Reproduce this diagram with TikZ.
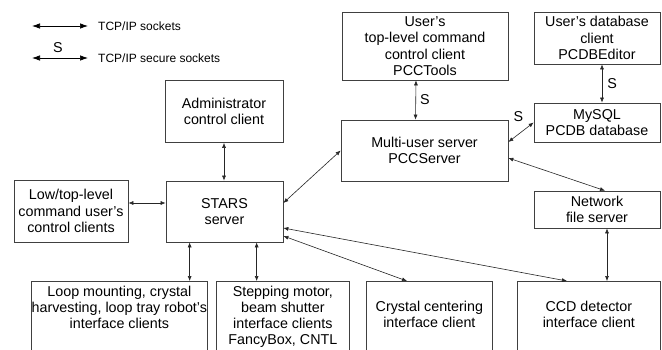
\documentclass[tikz,border=0pt]{standalone}
\usepackage{fontspec}
\setmainfont{Liberation Sans}
\usetikzlibrary{arrows.meta,calc}
\begin{document}
\begin{tikzpicture}[x=1pt,y=-1pt,
  box/.style={draw=black!75,line width=0.7pt,align=center,inner sep=0pt,font=\fontsize{14.3}{16.3}\selectfont},
  bbox/.style={draw=black!75,line width=0.7pt,inner sep=0pt,anchor=north west,font=\fontsize{14.3}{16}\selectfont},
  conn/.style={{Latex[length=5pt,width=4pt]}-{Latex[length=5pt,width=4pt]},line width=0.6pt,draw=black!85},
  legconn/.style={{Latex[length=8pt,width=5.5pt]}-{Latex[length=8pt,width=5.5pt]},line width=0.7pt,draw=black},
  lbl/.style={font=\fontsize{14.3}{16}\selectfont,inner sep=0pt},
  leg/.style={font=\fontsize{12}{14}\selectfont,inner sep=0pt,anchor=west}]
\useasboundingbox[fill=white] (0,0) rectangle (662,349);
\clip (0,0) rectangle (662,349);

% legend
\coordinate (la1) at (32,26);
\coordinate (la2) at (88,26);
\coordinate (lb1) at (32,58);
\coordinate (lb2) at (88,58);
\draw[legconn] (la1) -- (la2);
\draw[legconn] (lb1) -- node[lbl,xshift=-2pt,yshift=10pt]{S} (lb2);
\node[leg] (legA) at (98,26) {TCP/IP sockets};
\node[leg] (legB) at (98,58) {TCP/IP secure sockets};

% boxes
\node[box,minimum width=118pt,minimum height=62pt] (admin) at (224,111.5) {Administrator\\control client};
\node[box,minimum width=117pt,minimum height=61pt] (stars) at (224.5,211.5) {STARS\\server};
\node[box,minimum width=114pt,minimum height=62pt] (low) at (71,211) {Low/top-level\\command user's\\control clients};
\node[box,minimum width=166pt,minimum height=68pt] (pcctools) at (425,46) {User's\\top-level command\\control client\\PCCTools};
\node[box,minimum width=167pt,minimum height=61pt] (pccserver) at (424.5,150.5) {Multi-user server\\PCCServer};
\node[box,minimum width=126pt,minimum height=52pt] (pcdbed) at (597,38) {User's database\\client\\PCDBEditor};
\node[box,minimum width=126pt,minimum height=39pt] (mysql) at (597,122.5) {MySQL\\PCDB database};
\node[box,minimum width=126pt,minimum height=37pt] (netfs) at (597,209.5) {Network\\file server};

\node[bbox] (loop) at (31,281) {\parbox[t][79pt][t]{176pt}{\centering\vspace*{4.5pt}Loop mounting, crystal\\harvesting, loop tray robot's\\interface clients}};
\node[bbox] (step) at (216,281) {\parbox[t][79pt][t]{133pt}{\centering\vspace*{4.5pt}Stepping motor,\\beam shutter\\interface clients\\FancyBox, CNTL}};
\node[bbox] (cryst) at (366,281) {\parbox[t][79pt][t]{126pt}{\centering\vspace*{19.5pt}Crystal centering\\interface client}};
\node[bbox] (ccd) at (517,281) {\parbox[t][79pt][t]{143pt}{\centering\vspace*{19.5pt}CCD detector\\interface client}};

% connectors
\draw[conn] (admin.south) -- (admin.south |- stars.north);
\draw[conn] ([yshift=8pt]low.east) -- ([yshift=8pt]low.east -| stars.west);
\draw[conn] ([yshift=8.5pt]stars.east) -- (pccserver.west);
\draw[conn] ([yshift=-16.5pt]stars.east) -- ([xshift=50pt]ccd.north west);
\draw[conn] ([yshift=-24.5pt]stars.east) -- ([xshift=41pt]cryst.north west);
\draw[conn] ([xshift=24pt]stars.south west) -- ([xshift=24pt]stars.south west |- loop.north);
\draw[conn] ([xshift=91pt]stars.south west) -- ([xshift=91pt]stars.south west |- step.north);
\draw[conn] ([xshift=-9pt]pcctools.south) -- node[lbl,right=4pt]{S} ([xshift=-9pt]pccserver.north);
\draw[conn] ([xshift=5pt]pcdbed.south) -- node[lbl,right=5pt]{S} ([xshift=5pt]mysql.north);
\draw[conn] ([yshift=8.5pt]pccserver.east) -- node[lbl,xshift=-2.5pt,yshift=16pt]{S} (mysql.west);
\draw[conn] ([yshift=-7.5pt]pccserver.east) -- ([xshift=8pt]netfs.north);
\draw[conn] ([xshift=10pt]netfs.south) -- ([xshift=10pt]netfs.south |- ccd.north);
\end{tikzpicture}
\end{document}
